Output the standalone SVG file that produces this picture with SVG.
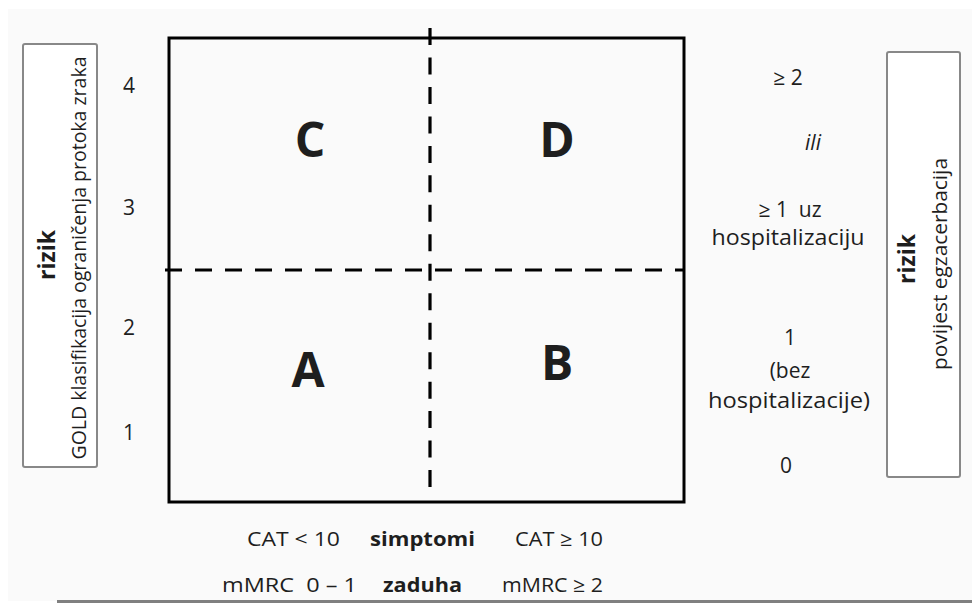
<svg xmlns="http://www.w3.org/2000/svg" width="972" height="605" viewBox="0 0 972 605">
  <style>
    text { font-family: "Open Sans", "Noto Sans", "DejaVu Sans", sans-serif; fill: #1e1e1e; font-size: 20px; }
    .b { font-weight: bold; }
    .r { font-weight: bold; font-size: 23px; }
    .n { font-size: 21px; }
    .big { font-weight: bold; font-size: 48px; }
    .m { text-anchor: middle; }
    .it { font-style: italic; }
    .box { fill: #ffffff; stroke: #888888; stroke-width: 2; }
    .frame { fill: none; stroke: #000000; stroke-width: 3; }
    .dash { fill: none; stroke: #000000; stroke-width: 3.2; }
  </style>
  <rect x="0" y="0" width="972" height="605" fill="#ffffff"/>
  <rect x="8" y="9" width="964" height="592" fill="#fafafa"/>

  <g id="left-axis-label">
    <rect class="box" x="23" y="44" width="74" height="423" rx="2"/>
    <text class="r m" transform="translate(55,255) rotate(-90)">rizik</text>
    <text class="m" transform="translate(86,258) rotate(-90)" textLength="403" lengthAdjust="spacingAndGlyphs">GOLD klasifikacija ograničenja protoka zraka</text>
  </g>

  <g id="right-axis-label">
    <rect class="box" x="887" y="52" width="73" height="425" rx="2"/>
    <text class="r m" transform="translate(915,259) rotate(-90)">rizik</text>
    <text class="m" transform="translate(947,264) rotate(-90)" textLength="212" lengthAdjust="spacingAndGlyphs">povijest egzacerbacija</text>
  </g>

  <g id="left-scale">
    <text class="m n" x="129" y="93">4</text>
    <text class="m n" x="129" y="215">3</text>
    <text class="m n" x="129" y="335">2</text>
    <text class="m n" x="129" y="440">1</text>
  </g>

  <g id="grid">
    <rect class="frame" x="169" y="38" width="515" height="464"/>
  </g>

  <g id="connectors">
    <path class="dash" d="M430,28 V488" stroke-dasharray="17 12.47"/>
    <path class="dash" d="M165,270 H684" stroke-dasharray="17 13"/>
  </g>

  <g id="quadrant-C"><text class="big m" x="310" y="157">C</text></g>
  <g id="quadrant-D"><text class="big m" x="557" y="157">D</text></g>
  <g id="quadrant-A"><text class="big m" x="308" y="387">A</text></g>
  <g id="quadrant-B"><text class="big m" x="557" y="380">B</text></g>

  <g id="right-scale">
    <text class="m n" x="788" y="85">≥ 2</text>
    <text class="m it n" x="813" y="150">ili</text>
    <text class="m n" x="790" y="217" xml:space="preserve">≥ 1  uz</text>
    <text class="m n" x="788" y="245" textLength="153" lengthAdjust="spacingAndGlyphs">hospitalizaciju</text>
    <text class="m n" x="790" y="345">1</text>
    <text class="m n" x="790" y="378">(bez</text>
    <text class="m n" x="789" y="408" textLength="162" lengthAdjust="spacingAndGlyphs">hospitalizacije)</text>
    <text class="m n" x="786" y="473">0</text>
  </g>

  <g id="bottom-labels">
    <text class="m" x="293.5" y="546" textLength="93" lengthAdjust="spacingAndGlyphs">CAT &lt; 10</text>
    <text class="m b" x="422.5" y="546" textLength="105" lengthAdjust="spacingAndGlyphs">simptomi</text>
    <text class="m" x="559" y="546" textLength="88" lengthAdjust="spacingAndGlyphs">CAT ≥ 10</text>
    <text class="m" x="289.5" y="592" textLength="135" lengthAdjust="spacingAndGlyphs" xml:space="preserve">mMRC  0 – 1</text>
    <text class="m b" x="422.5" y="592" textLength="79" lengthAdjust="spacingAndGlyphs">zaduha</text>
    <text class="m" x="552.5" y="592" textLength="101" lengthAdjust="spacingAndGlyphs">mMRC ≥ 2</text>
  </g>

  <line x1="57" y1="601.5" x2="972" y2="601.5" stroke="#808080" stroke-width="3"/>
</svg>
